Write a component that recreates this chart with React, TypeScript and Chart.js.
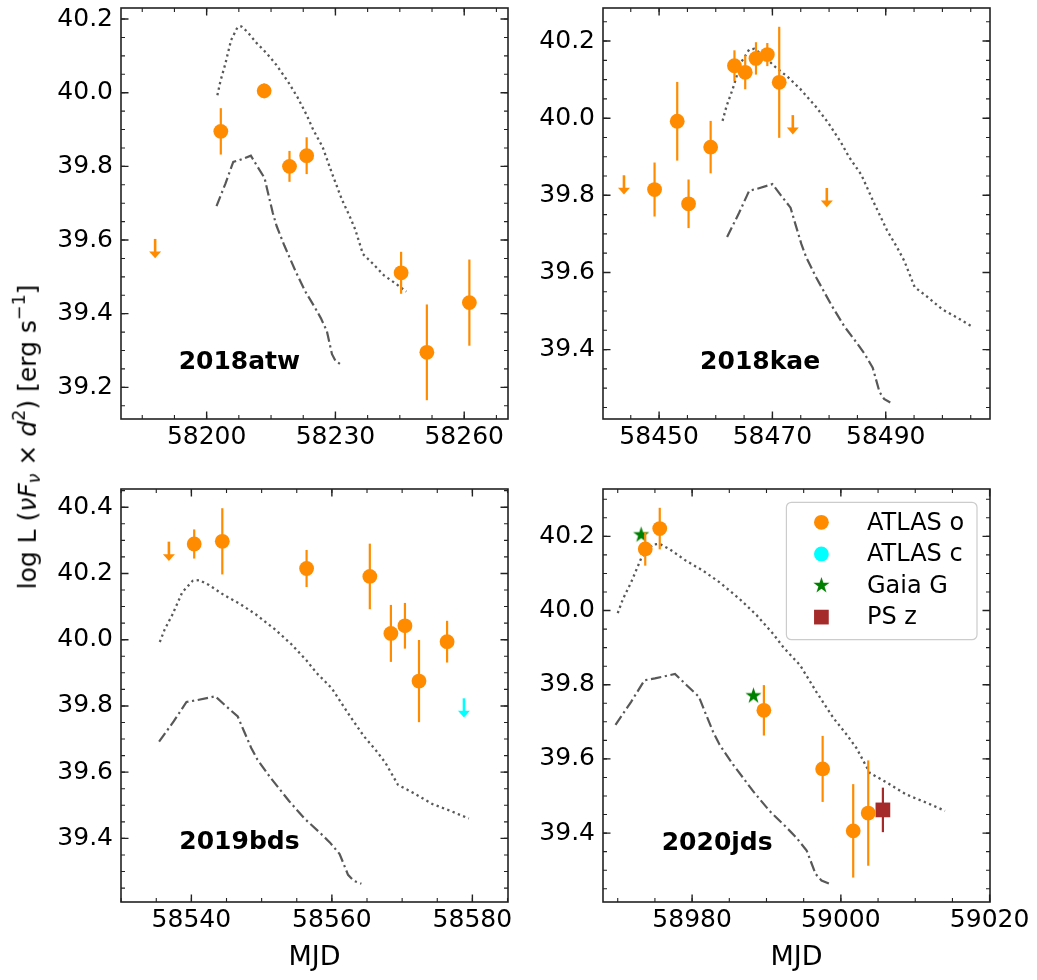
import React, { useEffect, useRef } from "react";
import { Chart, registerables } from "chart.js";
Chart.register(...registerables);

const FONT = "'DejaVu Sans', 'Liberation Sans', sans-serif";
const ORANGE = "#ff8c00";
const CYAN = "#00ffff";
const GREEN = "#008000";
const BROWN = "#a52a2a";
const MODEL = "#585858";
const AXIS = "#222222";

// ---------- model light curves (luminosity values shared by all panels) ----------
const dottedL = [39.993, 40.031, 40.076, 40.143, 40.178, 40.18, 40.165, 40.134, 40.107, 40.076, 40.031, 39.987, 39.937, 39.9, 39.853, 39.781, 39.71, 39.665, 39.629, 39.562, 39.536, 39.504, 39.482, 39.46];
const dashDotL = [39.692, 39.754, 39.812, 39.817, 39.829, 39.8, 39.768, 39.728, 39.674, 39.638, 39.585, 39.513, 39.46, 39.415, 39.388, 39.353, 39.29, 39.272, 39.263];

// ---------- 2018atw ----------
const atwDottedMJD = [58202.5, 58203.2, 58204.3, 58205.7, 58207.2, 58208.1, 58209.5, 58211.7, 58214.0, 58216.2, 58218.9, 58221.2, 58223.4, 58224.8, 58227.0, 58229.2, 58231.5, 58233.3, 58234.6, 58236.4, 58238.7, 58241.3, 58244.0, 58246.5];
const atwDashDotMJD = [58202.3, 58204.4, 58206.2, 58207.6, 58210.3, 58211.8, 58213.5, 58214.3, 58215.4, 58216.3, 58218.1, 58220.8, 58223.0, 58225.3, 58226.6, 58228.0, 58229.2, 58230.0, 58231.1];
const atwOMJD = [58203.3, 58213.4, 58219.3, 58223.3, 58245.3, 58251.3, 58261.2];
const atwOL = [39.895, 40.005, 39.8, 39.829, 39.511, 39.295, 39.43];
const atwOErr = [0.063, 0.02, 0.042, 0.05, 0.057, 0.13, 0.117];
const atwOLimMJD = [58188.0];
const atwOLimL = [39.603];

// ---------- 2018kae ----------
const kaeDottedMJD = [58461.2, 58461.9, 58463.0, 58464.4, 58465.9, 58466.8, 58468.2, 58470.4, 58472.7, 58474.9, 58477.6, 58479.9, 58482.1, 58483.5, 58485.7, 58487.9, 58490.2, 58492.0, 58493.3, 58495.1, 58497.4, 58500.0, 58502.7, 58505.2];
const kaeDashDotMJD = [58462.0, 58464.1, 58465.9, 58467.3, 58470.0, 58471.5, 58473.2, 58474.0, 58475.1, 58476.0, 58477.8, 58480.5, 58482.7, 58485.0, 58486.3, 58487.7, 58488.9, 58489.7, 58490.8];
const kaeOMJD = [58449.2, 58453.2, 58455.2, 58459.1, 58463.3, 58465.2, 58467.1, 58469.1, 58471.2];
const kaeOL = [39.815, 39.992, 39.778, 39.925, 40.136, 40.119, 40.155, 40.165, 40.093];
const kaeOErr = [0.07, 0.102, 0.063, 0.068, 0.04, 0.044, 0.042, 0.03, 0.144];
const kaeOLimMJD = [58443.8, 58473.6, 58479.6];
const kaeOLimL = [39.852, 40.008, 39.819];

// ---------- 2019bds ----------
const bdsDottedMJD = [58535.5, 58536.2, 58537.3, 58538.7, 58540.2, 58541.1, 58542.5, 58544.7, 58547.0, 58549.2, 58551.9, 58554.2, 58556.4, 58557.8, 58560.0, 58562.2, 58564.5, 58566.3, 58567.6, 58569.4, 58571.7, 58574.3, 58577.0, 58579.5];
const bdsDashDotMJD = [58535.4, 58537.5, 58539.3, 58540.7, 58543.4, 58544.9, 58546.6, 58547.4, 58548.5, 58549.4, 58551.2, 58553.9, 58556.1, 58558.4, 58559.7, 58561.1, 58562.3, 58563.1, 58564.2];
const bdsOMJD = [58540.4, 58544.4, 58556.4, 58565.4, 58568.4, 58570.4, 58572.4, 58576.4];
const bdsOL = [40.289, 40.297, 40.215, 40.191, 40.019, 40.042, 39.875, 39.994];
const bdsOErr = [0.044, 0.1, 0.056, 0.099, 0.086, 0.069, 0.124, 0.063];
const bdsOLimMJD = [58536.8];
const bdsOLimL = [40.296];
const bdsCLimMJD = [58578.8];
const bdsCLimL = [39.823];

// ---------- 2020jds ----------
const jdsDottedMJD = [58970.0, 58970.7, 58971.8, 58973.2, 58974.7, 58975.6, 58977.0, 58979.2, 58981.5, 58983.7, 58986.4, 58988.7, 58990.9, 58992.3, 58994.5, 58996.7, 58999.0, 59000.8, 59002.1, 59003.9, 59006.2, 59008.8, 59011.5, 59014.0];
const jdsDashDotMJD = [58969.7, 58971.8, 58973.6, 58975.0, 58977.7, 58979.2, 58980.9, 58981.7, 58982.8, 58983.7, 58985.5, 58988.2, 58990.4, 58992.7, 58994.0, 58995.4, 58996.6, 58997.4, 58998.5];
const jdsOMJD = [58973.7, 58975.65, 58989.65, 58997.55, 59001.66, 59003.68];
const jdsOL = [40.166, 40.221, 39.731, 39.573, 39.406, 39.454];
const jdsOErr = [0.045, 0.056, 0.068, 0.089, 0.126, 0.142];
const jdsGaiaMJD = [58973.15, 58988.25];
const jdsGaiaL = [40.204, 39.77];
const jdsPSMJD = [59005.65];
const jdsPSL = [39.4625];
const jdsPSErr = [0.06];

// ---------- axes ----------
const atwXTicks = [58200, 58230, 58260];
const atwYTicks = [39.2, 39.4, 39.6, 39.8, 40.0, 40.2];
const kaeXTicks = [58450, 58470, 58490];
const kaeYTicks = [39.4, 39.6, 39.8, 40.0, 40.2];
const bdsXTicks = [58540, 58560, 58580];
const bdsYTicks = [39.4, 39.6, 39.8, 40.0, 40.2, 40.4];
const jdsXTicks = [58980, 59000, 59020];
const jdsYTicks = [39.4, 39.6, 39.8, 40.0, 40.2];

const legendLabels = ["ATLAS o", "ATLAS c", "Gaia G", "PS z"];

// ---------- layout ----------
const M_LEFT = 110;
const M_TOP = 20;
const M_RIGHT = 45;
const M_BOTTOM = 80;

function makeStar(color: string, R: number) {
  const size = Math.ceil(R * 2 + 2);
  const c = document.createElement("canvas");
  c.width = size;
  c.height = size;
  const g = c.getContext("2d")!;
  g.fillStyle = color;
  g.beginPath();
  for (let k = 0; k < 10; k++) {
    const r = k % 2 === 0 ? R : R * 0.382;
    const ang = -Math.PI / 2 + (k * Math.PI) / 5;
    const px = size / 2 + r * Math.cos(ang);
    const py = size / 2 + r * Math.sin(ang);
    if (k === 0) g.moveTo(px, py);
    else g.lineTo(px, py);
  }
  g.closePath();
  g.fill();
  return c;
}

const pts = (xs: number[], ys: number[]) => xs.map((x, i) => ({ x, y: ys[i] }));

function curves(dotX: number[], ddX: number[]) {
  return [
    {
      data: pts(dotX, dottedL),
      showLine: true,
      pointRadius: 0,
      borderColor: MODEL,
      borderWidth: 2.3,
      borderDash: [2.3, 3.4],
      borderCapStyle: "butt",
      fill: false,
      order: 5,
    },
    {
      data: pts(ddX, dashDotL),
      showLine: true,
      pointRadius: 0,
      borderColor: MODEL,
      borderWidth: 2.2,
      borderDash: [10.5, 3.6, 2.2, 3.6],
      borderCapStyle: "butt",
      fill: false,
      order: 5,
    },
  ];
}

function circles(xs: number[], ys: number[], err: number[], color: string) {
  return {
    data: pts(xs, ys),
    errY: err,
    errColor: color,
    pointStyle: "circle",
    pointRadius: 7.4,
    backgroundColor: color,
    borderWidth: 0,
    order: 1,
  };
}

function limits(xs: number[], ys: number[], color: string) {
  return { data: pts(xs, ys), uplim: true, arrowColor: color, pointRadius: 0, order: 1 };
}

function panelSpecs() {
  const star = makeStar(GREEN, 8.5);
  return [
    {
      key: "atw",
      name: "2018atw",
      rect: { left: 120.7, top: 5, width: 386.6, height: 414.3 },
      x: [58180.05, 58270.2],
      y: [39.114, 40.23],
      xTicks: atwXTicks,
      yTicks: atwYTicks,
      xMinor: 7.5,
      yMinor: 0.05,
      labelAt: [0.306, 0.138],
      xTitle: false,
      legend: false,
      datasets: [
        ...curves(atwDottedMJD, atwDashDotMJD),
        circles(atwOMJD, atwOL, atwOErr, ORANGE),
        limits(atwOLimMJD, atwOLimL, ORANGE),
      ],
    },
    {
      key: "kae",
      name: "2018kae",
      rect: { left: 603.3, top: 5, width: 386.7, height: 414.3 },
      x: [58440.1, 58508.4],
      y: [39.22, 40.2857],
      xTicks: kaeXTicks,
      yTicks: kaeYTicks,
      xMinor: 5,
      yMinor: 0.05,
      labelAt: [0.406, 0.138],
      xTitle: false,
      legend: false,
      datasets: [
        ...curves(kaeDottedMJD, kaeDashDotMJD),
        circles(kaeOMJD, kaeOL, kaeOErr, ORANGE),
        limits(kaeOLimMJD, kaeOLimL, ORANGE),
      ],
    },
    {
      key: "bds",
      name: "2019bds",
      rect: { left: 120.7, top: 486, width: 386.6, height: 415.7 },
      x: [58529.98, 58585.07],
      y: [39.208, 40.455],
      xTicks: bdsXTicks,
      yTicks: bdsYTicks,
      xMinor: 5,
      yMinor: 0.05,
      labelAt: [0.306, 0.143],
      xTitle: true,
      legend: false,
      datasets: [
        ...curves(bdsDottedMJD, bdsDashDotMJD),
        circles(bdsOMJD, bdsOL, bdsOErr, ORANGE),
        limits(bdsOLimMJD, bdsOLimL, ORANGE),
        limits(bdsCLimMJD, bdsCLimL, CYAN),
      ],
    },
    {
      key: "jds",
      name: "2020jds",
      rect: { left: 603.3, top: 486, width: 386.7, height: 415.7 },
      x: [58968.02, 59020.05],
      y: [39.2142, 40.3277],
      xTicks: jdsXTicks,
      yTicks: jdsYTicks,
      xMinor: 5,
      yMinor: 0.05,
      labelAt: [0.295, 0.141],
      xTitle: true,
      legend: true,
      star,
      datasets: [
        ...curves(jdsDottedMJD, jdsDashDotMJD),
        circles(jdsOMJD, jdsOL, jdsOErr, ORANGE),
        {
          data: pts(jdsGaiaMJD, jdsGaiaL),
          pointStyle: star,
          pointRadius: 8.5,
          order: 2,
        },
        {
          data: pts(jdsPSMJD, jdsPSL),
          errY: jdsPSErr,
          errColor: BROWN,
          pointStyle: "rect",
          pointRadius: 10.4,
          backgroundColor: BROWN,
          borderWidth: 0,
          order: 1,
        },
      ],
    },
  ];
}

function minorValues(min: number, max: number, step: number) {
  const out: number[] = [];
  const k0 = Math.ceil(min / step - 1e-9);
  const k1 = Math.floor(max / step + 1e-9);
  for (let k = k0; k <= k1; k++) out.push(k * step);
  return out;
}

function drawMarker(ctx: CanvasRenderingContext2D, kind: number, x: number, y: number, star: HTMLCanvasElement) {
  if (kind === 0 || kind === 1) {
    ctx.fillStyle = kind === 0 ? ORANGE : CYAN;
    ctx.beginPath();
    ctx.arc(x, y, 7.4, 0, Math.PI * 2);
    ctx.fill();
  } else if (kind === 2) {
    ctx.drawImage(star, x - star.width / 2, y - star.height / 2);
  } else {
    ctx.fillStyle = BROWN;
    ctx.fillRect(x - 7.35, y - 7.35, 14.7, 14.7);
  }
}

function makePlugin(p: any) {
  return {
    id: "decor_" + p.key,
    beforeDatasetDraw(chart: any, args: any) {
      const ds = chart.data.datasets[args.index];
      if (!ds.errY) return;
      const xs = chart.scales.x;
      const ys = chart.scales.y;
      const ctx = chart.ctx;
      ctx.save();
      ctx.strokeStyle = ds.errColor;
      ctx.lineWidth = 2.2;
      ds.data.forEach((pt: any, i: number) => {
        const px = xs.getPixelForValue(pt.x);
        ctx.beginPath();
        ctx.moveTo(px, ys.getPixelForValue(pt.y + ds.errY[i]));
        ctx.lineTo(px, ys.getPixelForValue(pt.y - ds.errY[i]));
        ctx.stroke();
      });
      ctx.restore();
    },
    afterDatasetDraw(chart: any, args: any) {
      const ds = chart.data.datasets[args.index];
      if (!ds.uplim) return;
      const xs = chart.scales.x;
      const ys = chart.scales.y;
      const ctx = chart.ctx;
      ctx.save();
      ctx.strokeStyle = ds.arrowColor;
      ctx.fillStyle = ds.arrowColor;
      ctx.lineWidth = 2.6;
      ds.data.forEach((pt: any) => {
        const px = xs.getPixelForValue(pt.x);
        const py = ys.getPixelForValue(pt.y);
        ctx.beginPath();
        ctx.moveTo(px, py);
        ctx.lineTo(px, py + 14);
        ctx.stroke();
        ctx.beginPath();
        ctx.moveTo(px - 6, py + 12.5);
        ctx.lineTo(px + 6, py + 12.5);
        ctx.lineTo(px, py + 19.3);
        ctx.closePath();
        ctx.fill();
      });
      ctx.restore();
    },
    afterDraw(chart: any) {
      const ctx = chart.ctx;
      const a = chart.chartArea;
      const xs = chart.scales.x;
      const ys = chart.scales.y;
      ctx.save();
      // panel name
      ctx.fillStyle = "#000";
      ctx.font = `bold 25px ${FONT}`;
      ctx.textAlign = "center";
      ctx.textBaseline = "middle";
      ctx.fillText(p.name, a.left + p.labelAt[0] * (a.right - a.left), a.bottom - p.labelAt[1] * (a.bottom - a.top));

      // ticks (inward, all four sides)
      ctx.strokeStyle = AXIS;
      const tick = (vals: number[], len: number, lw: number, horizontal: boolean) => {
        ctx.lineWidth = lw;
        vals.forEach((v) => {
          if (horizontal) {
            const px = xs.getPixelForValue(v);
            if (px < a.left - 0.5 || px > a.right + 0.5) return;
            ctx.beginPath();
            ctx.moveTo(px, a.bottom);
            ctx.lineTo(px, a.bottom - len);
            ctx.moveTo(px, a.top);
            ctx.lineTo(px, a.top + len);
            ctx.stroke();
          } else {
            const py = ys.getPixelForValue(v);
            if (py < a.top - 0.5 || py > a.bottom + 0.5) return;
            ctx.beginPath();
            ctx.moveTo(a.left, py);
            ctx.lineTo(a.left + len, py);
            ctx.moveTo(a.right, py);
            ctx.lineTo(a.right - len, py);
            ctx.stroke();
          }
        });
      };
      tick(minorValues(p.x[0], p.x[1], p.xMinor), 4, 1.1, true);
      tick(minorValues(p.y[0], p.y[1], p.yMinor), 4, 1.1, false);
      tick(p.xTicks, 7.5, 1.4, true);
      tick(p.yTicks, 7.5, 1.4, false);

      // frame
      ctx.lineWidth = 1.6;
      ctx.strokeRect(a.left, a.top, a.right - a.left, a.bottom - a.top);

      // legend
      if (p.legend) {
        const bx = a.left + 183.4;
        const by = a.top + 13.3;
        const bw = 190.6;
        const bh = 137.4;
        ctx.beginPath();
        ctx.roundRect(bx, by, bw, bh, 5);
        ctx.fillStyle = "rgba(255,255,255,0.8)";
        ctx.fill();
        ctx.strokeStyle = "#cccccc";
        ctx.lineWidth = 1.2;
        ctx.stroke();
        ctx.font = `24px ${FONT}`;
        ctx.textAlign = "left";
        ctx.textBaseline = "middle";
        legendLabels.forEach((lab, i) => {
          const cy = by + 20 + i * 31.6;
          drawMarker(ctx, i, a.left + 218.4, cy, p.star);
          ctx.fillStyle = "#000";
          ctx.fillText(lab, a.left + 264, cy + 1);
        });
      }
      ctx.restore();
    },
  };
}

function Panel({ p }: { p: any }) {
  const ref = useRef<HTMLCanvasElement>(null);
  const W = Math.round(p.rect.width + M_LEFT + M_RIGHT);
  const H = Math.round(p.rect.height + M_TOP + M_BOTTOM);
  useEffect(() => {
    const chart = new Chart(ref.current!, {
      type: "scatter",
      data: { datasets: p.datasets },
      options: {
        animation: false,
        responsive: false,
        devicePixelRatio: 1,
        events: [],
        layout: { padding: { left: 0, top: M_TOP, right: M_RIGHT, bottom: 0 } },
        plugins: { legend: { display: false }, tooltip: { enabled: false } },
        scales: {
          x: {
            type: "linear",
            min: p.x[0],
            max: p.x[1],
            afterBuildTicks: (ax: any) => {
              ax.ticks = p.xTicks.map((v: number) => ({ value: v }));
            },
            afterFit: (ax: any) => {
              ax.height = M_BOTTOM;
            },
            ticks: {
              autoSkip: false,
              maxRotation: 0,
              minRotation: 0,
              padding: 3,
              color: "#000",
              font: { size: 25, family: FONT },
              callback: (v: any) => String(v),
            },
            grid: { display: false, drawTicks: false, tickLength: 0 },
            border: { display: false },
            title: {
              display: p.xTitle,
              text: "MJD",
              color: "#000",
              font: { size: 27, family: FONT },
              padding: { top: 0, bottom: 8 },
            },
          },
          y: {
            type: "linear",
            min: p.y[0],
            max: p.y[1],
            afterBuildTicks: (ax: any) => {
              ax.ticks = p.yTicks.map((v: number) => ({ value: v }));
            },
            afterFit: (ax: any) => {
              ax.width = M_LEFT;
            },
            ticks: {
              autoSkip: false,
              padding: 8,
              color: "#000",
              font: { size: 25, family: FONT },
              callback: (v: any) => Number(v).toFixed(1),
            },
            grid: { display: false, drawTicks: false, tickLength: 0 },
            border: { display: false },
          },
        },
      } as any,
      plugins: [makePlugin(p)],
    } as any);
    return () => chart.destroy();
  }, []);
  return (
    <canvas
      ref={ref}
      width={W}
      height={H}
      style={{
        position: "absolute",
        left: Math.round(p.rect.left - M_LEFT),
        top: Math.round(p.rect.top - M_TOP),
        width: W,
        height: H,
      }}
    />
  );
}

export default function App() {
  const specs = React.useMemo(() => panelSpecs(), []);
  return (
    <div
      style={{
        position: "fixed",
        left: 0,
        top: 0,
        width: 1037,
        height: 980,
        background: "#fff",
        overflow: "hidden",
        fontFamily: FONT,
      }}
    >
      {specs.map((p) => (
        <Panel key={p.key} p={p} />
      ))}
      <div
        style={{
          position: "absolute",
          left: 27,
          top: 437,
          transform: "translate(-50%, -50%) rotate(-90deg)",
          whiteSpace: "nowrap",
          fontSize: 25,
          lineHeight: 1,
          color: "#000",
        }}
      >
        log L (<i>νF</i>
        <sub style={{ fontSize: "0.7em", verticalAlign: "-0.25em" }}>
          <i>ν</i>
        </sub>{" "}
        × <i>d</i>
        <sup style={{ fontSize: "0.7em", verticalAlign: "0.6em" }}>2</sup>) [erg s
        <sup style={{ fontSize: "0.7em", verticalAlign: "0.6em" }}>−1</sup>]
      </div>
    </div>
  );
}
